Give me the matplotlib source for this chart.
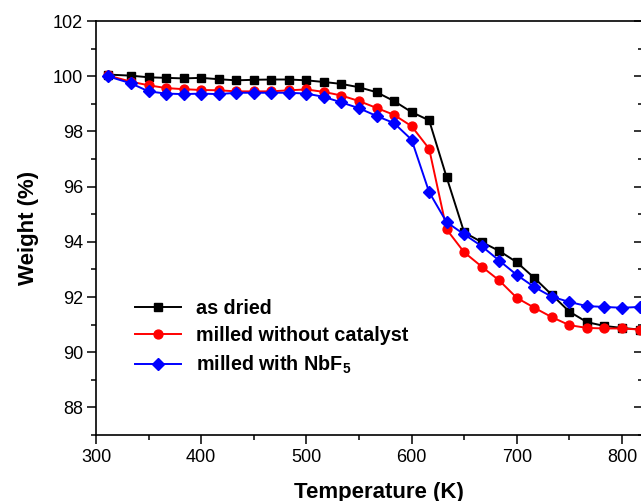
import matplotlib
matplotlib.use('Agg')
import matplotlib.pyplot as plt
from matplotlib.ticker import MultipleLocator

plt.rcParams['font.family'] = ['Liberation Sans', 'DejaVu Sans']
plt.rcParams['mathtext.fontset'] = 'custom'
plt.rcParams['mathtext.rm'] = 'Liberation Sans:bold'
plt.rcParams['mathtext.bf'] = 'Liberation Sans:bold'
plt.rcParams['mathtext.default'] = 'bf'

# temperatures (K)
temperatura = [311, 333.3, 350, 366.7, 383.3, 400, 416.7, 433.3, 450, 466.7,
               483.3, 500, 516.7, 533.3, 550, 566.7, 583.3, 600, 616.7, 633.3,
               650, 666.7, 683.3, 700, 716.7, 733.3, 750, 766.7, 783.3, 800, 816.7]

# weight (%)
as_dried = [100.06, 100.02, 99.96, 99.94, 99.92, 99.94, 99.89, 99.85, 99.87, 99.88,
            99.88, 99.85, 99.79, 99.72, 99.60, 99.42, 99.10, 98.70, 98.40, 96.34,
            94.34, 93.99, 93.67, 93.26, 92.69, 92.08, 91.47, 91.09, 90.95, 90.88, 90.82]
sem_catalisador = [100.03, 99.80, 99.67, 99.57, 99.53, 99.50, 99.49, 99.45, 99.45, 99.45,
                   99.49, 99.52, 99.43, 99.30, 99.10, 98.85, 98.60, 98.19, 97.37, 94.45,
                   93.62, 93.10, 92.60, 91.97, 91.61, 91.27, 90.98, 90.88, 90.86, 90.86, 90.82]
com_nbf5 = [100.00, 99.74, 99.45, 99.37, 99.35, 99.37, 99.35, 99.40, 99.40, 99.40,
            99.40, 99.37, 99.25, 99.05, 98.84, 98.56, 98.30, 97.70, 95.80, 94.71,
            94.27, 93.84, 93.32, 92.80, 92.36, 92.01, 91.82, 91.67, 91.64, 91.61, 91.64]

rotulos = ['as dried', 'milled without catalyst', r'milled with NbF$_5$']

fig = plt.figure(figsize=(6.41, 5.01), dpi=100)
W, H = 641, 501
ax = fig.add_axes([96 / W, 66 / H, 547 / W, 414 / H])

ax.plot(temperatura, as_dried, color='black', marker='s', ms=5.4, lw=1.4, label=rotulos[0])
ax.plot(temperatura, sem_catalisador, color='red', marker='o', ms=6.4, lw=1.4, label=rotulos[1])
ax.plot(temperatura, com_nbf5, color='blue', marker='D', ms=5.8, lw=1.4, label=rotulos[2])

ax.set_xlim(300, 820)
ax.set_ylim(87, 102)
ax.xaxis.set_major_locator(MultipleLocator(100))
ax.xaxis.set_minor_locator(MultipleLocator(50))
ax.yaxis.set_major_locator(MultipleLocator(2))
ax.yaxis.set_minor_locator(MultipleLocator(1))

for s in ax.spines.values():
    s.set_linewidth(1.2)

ax.tick_params(axis='both', which='major', direction='out', length=6.5, width=1.1, labelsize=13)
ax.tick_params(axis='both', which='minor', direction='out', length=3.4, width=1.1)
ax.tick_params(axis='x', which='major', pad=3.6)
ax.tick_params(axis='y', which='major', pad=2.8)

dir_ax = ax.secondary_yaxis('right')
dir_ax.yaxis.set_major_locator(MultipleLocator(2))
dir_ax.yaxis.set_minor_locator(MultipleLocator(1))
dir_ax.tick_params(which='major', direction='in', length=6.5, width=1.1, labelright=False)
dir_ax.tick_params(which='minor', direction='in', length=3.4, width=1.1)

fig.text(379 / W, 3 / H, 'Temperature (K)', ha='center', va='baseline',
         fontsize=16, fontweight='bold')
ax.set_ylabel('Weight (%)', fontsize=16, fontweight='bold')
ax.yaxis.set_label_coords(-0.104, 0.5)

leg = ax.legend(loc='upper left', bbox_to_anchor=(135 / W, 1 - 299 / H),
                bbox_transform=fig.transFigure, frameon=False, borderpad=0,
                borderaxespad=0, handlelength=2.35, handletextpad=0.75,
                labelspacing=0.42, prop={'size': 14.2, 'weight': 'bold'})

fig.savefig('out.png', dpi=100)
